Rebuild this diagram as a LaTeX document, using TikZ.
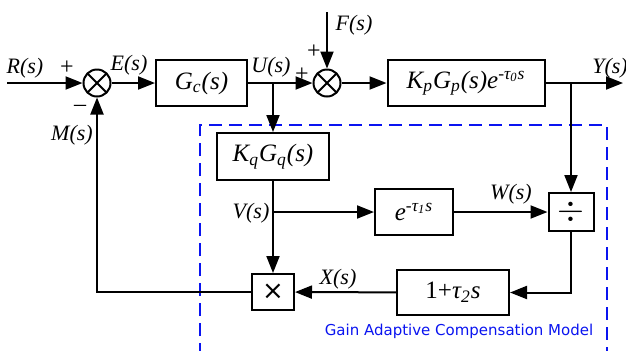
\documentclass[tikz,border=0pt]{standalone}
\usepackage{amsmath}
\usepackage{fontspec}
\setmainfont{Liberation Serif}
\newfontfamily\labelfont{DejaVu Sans}
\usetikzlibrary{arrows.meta,positioning,calc}
\definecolor{ModelBlue}{HTML}{0A14F0}

\tikzset{
  block/.style={draw,line width=1pt,inner sep=0pt,font=\fontsize{12.5}{15}\selectfont\itshape},
  sumnode/.style={draw,circle,line width=1pt,minimum size=13.5pt,inner sep=0pt,
    path picture={\draw[line width=1pt] (path picture bounding box.center) ++(45:6.75pt) -- ++(225:13.5pt)
      (path picture bounding box.center) ++(135:6.75pt) -- ++(315:13.5pt);}},
  signal/.style={font=\fontsize{11}{13}\selectfont\itshape,inner sep=0pt},
  sign/.style={font=\fontsize{12}{14}\selectfont,inner sep=0pt,text height=7pt,text depth=0pt},
  line/.style={line width=1pt,-{Triangle[length=8.5pt,width=6.5pt]}}
}

\begin{document}
\begin{tikzpicture}[x=0.5pt,y=-0.5pt]
    \useasboundingbox (0,0) rectangle (626,350);
    % forward path
    \coordinate (rin) at (7,83);
    \node[sumnode] (s1) at (97,83) {};
    \node[block,minimum width=45.5pt,minimum height=23pt] (gc) at (201.5,83) {G$_{\textit{c}}$(s)};
    \coordinate (ubr) at (273,83);
    \node[sumnode] (s2) at (327,83) {};
    \coordinate (fin) at (327,12);
    \node[block,minimum width=78.5pt,minimum height=23pt] (kp) at (466,83) {K$_{\textit{p}}$G$_{\textit{p}}$(s)e$^{\textit{-τ}_{\textit{0}}\textit{s}}$};
    \coordinate (ybr) at (571,83);
    \coordinate (yout) at (623,83);
    % compensation model
    \node[block,minimum width=56pt,minimum height=23.5pt] (kq) at (273,156.5) {K$_{\textit{q}}$G$_{\textit{q}}$(s)};
    \coordinate (vbr) at (273,212);
    \node[block,minimum width=39pt,minimum height=23pt] (ed) at (414,212) {e$^{\textit{-τ}_{\textit{1}}\textit{s}}$};
    \node[block,minimum width=22.5pt,minimum height=19pt,font=\fontsize{17}{19}\selectfont] (dv) at (571,212) {$\div$};
    \node[block,minimum width=56pt,minimum height=22.5pt] (lead) at (453,292.5) {\upshape 1+\itshape τ$_{\textit{2}}$s};
    \node[block,minimum width=21pt,minimum height=18pt,font=\labelfont\fontsize{13}{15}\selectfont] (mul) at (273,292) {×};
    \draw[ModelBlue,line width=1pt,dash pattern=on 6.5pt off 3.5pt] (200,356) -- (200,125) -- (607,125) -- (607,356);
    \node[font=\labelfont\fontsize{7.5}{9}\selectfont,text=ModelBlue,inner sep=0pt] (gacm) at (459,331) {Gain Adaptive Compensation Model};
    % connectors
    \draw[line] (rin) -- (s1);
    \draw[line] (s1) -- (gc);
    \draw[line] (gc) -- (s2);
    \draw[line] (ubr) -- (kq);
    \draw[line] (fin) -- (s2);
    \draw[line] (s2) -- (kp);
    \draw[line] (kp) -- (yout);
    \draw[line] (ybr) -- (dv);
    \draw[line] (kq) -- (mul);
    \draw[line] (vbr) -- (ed);
    \draw[line] (ed) -- (dv);
    \draw[line] (dv.south) |- (lead.east);
    \draw[line] (lead) -- (mul);
    \draw[line] (mul.west) -| (s1.south);
    % signal labels
    \node[signal] (rlab) at (25,68) {R(s)};
    \node[sign] (p1) at (67,67) {+};
    \node[sign] (m1) at (80,104) {\textendash};
    \node[signal] (elab) at (129,65) {E(s)};
    \node[signal] (ulab) at (271,67) {U(s)};
    \node[sign] (p2) at (302,74) {+};
    \node[sign] (p3) at (314,51) {+};
    \node[signal] (flab) at (354,25) {F(s)};
    \node[signal] (ylab) at (610,68) {Y(s)};
    \node[signal] (mlab) at (72,135) {M(s)};
    \node[signal] (vlab) at (251,213) {V(s)};
    \node[signal] (wlab) at (511,194) {W(s)};
    \node[signal] (xlab) at (338,279) {X(s)};
\end{tikzpicture}
\end{document}
